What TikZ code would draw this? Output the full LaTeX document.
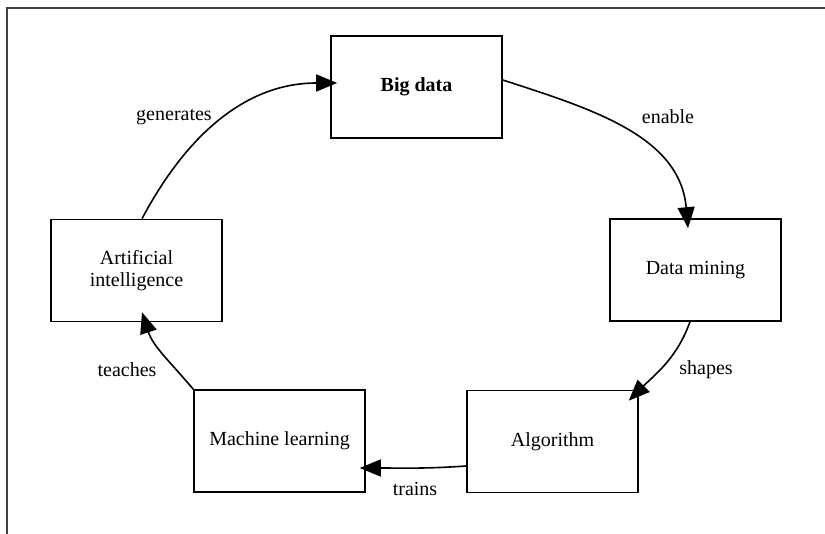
\documentclass[tikz,border=0pt]{standalone}
\usepackage{fontspec}
\setmainfont{Liberation Serif}
\usetikzlibrary{arrows.meta}
\begin{document}
\begin{tikzpicture}[x=1pt,y=1pt,
  font=\fontsize{20}{22}\selectfont,
  box/.style={draw, line width=1.6pt, minimum width=171pt, minimum height=102pt, align=center, inner sep=0pt},
  conn/.style={line width=1.6pt, -{Triangle[length=21pt,width=17pt]}},
  lbl/.style={inner sep=0pt}]
\useasboundingbox (0,0) rectangle (825,-534);
\draw[line width=2pt, draw=black!75] (7,-534) -- (7,-8) -- (825,-8);

\node[box] (big) at (416.5,-87) {\textbf{Big data}};
\node[box] (dm) at (695.5,-270) {Data mining};
\node[box] (alg) at (552.5,-441.5) {Algorithm};
\node[box] (ml) at (279.5,-441) {Machine learning};
\node[box] (ai) at (136.5,-270.5) {Artificial\\intelligence};

\draw[conn] ([xshift=5.5pt]ai.north) to[out=62,in=180] ([xshift=7pt,yshift=4pt]big.west);
\draw[conn] ([yshift=7pt]big.east) to[out=-18,in=95] ([xshift=-7.5pt,yshift=-10pt]dm.north);
\draw[conn] ([xshift=-5.5pt]dm.south) to[out=-110,in=45] ([xshift=-10pt,yshift=-11pt]alg.north east);
\draw[conn] ([yshift=-24.5pt]alg.west) to[out=184,in=0] ([xshift=-6pt,yshift=-27pt]ml.east);
\draw[conn] (ml.north west) to[out=130,in=-72] ([xshift=5.5pt,yshift=10pt]ai.south);

\node[lbl] (lgen) at (174,-117) {generates};
\node[lbl] (lena) at (668,-117) {enable};
\node[lbl] (lsha) at (706,-370) {shapes};
\node[lbl] (ltra) at (415,-489) {trains};
\node[lbl] (ltea) at (127,-370) {teaches};
\end{tikzpicture}
\end{document}
